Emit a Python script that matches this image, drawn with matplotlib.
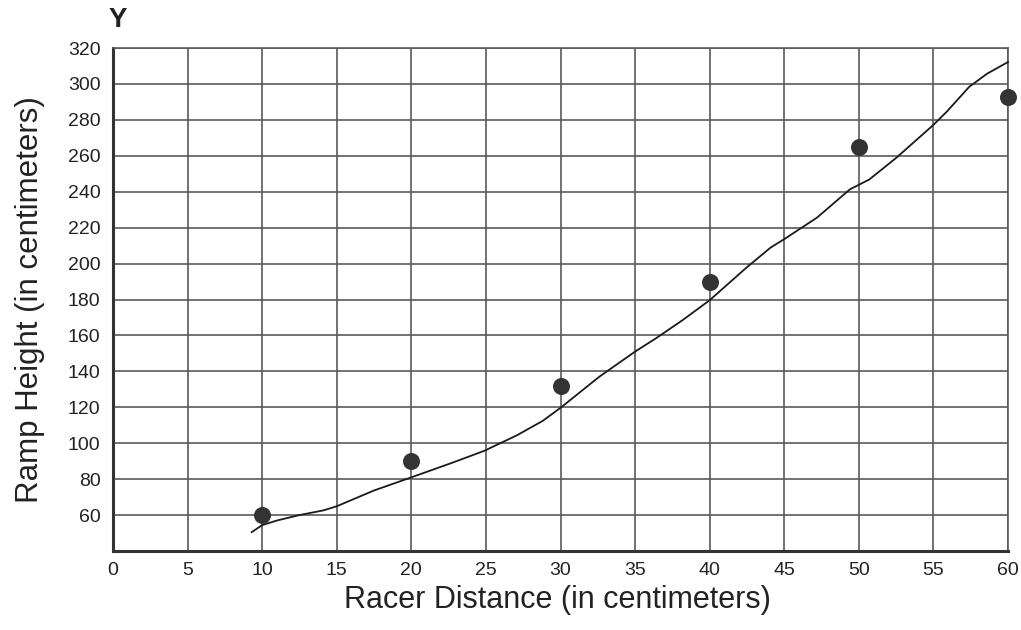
import matplotlib
matplotlib.use("Agg")
import matplotlib.pyplot as plt

plt.rcParams['font.family'] = ['Liberation Sans', 'DejaVu Sans']

# Data points
point_x = [10, 20, 30, 40, 50, 60]
point_y = [60, 90, 132, 190, 265, 293]

# Hand-drawn trend curve
curve_x = [9.3, 10.0, 11.0, 12.5, 14.1, 15.0, 17.5, 20.0, 22.8, 24.9, 27.1, 28.8,
           30.0, 32.6, 35.0, 36.4, 38.2, 40.0, 42.5, 44.1, 45.0, 47.2, 49.4, 50.7,
           52.5, 55.0, 55.9, 57.4, 58.6, 60.0]
curve_y = [50.5, 54.4, 57.0, 60.0, 62.6, 64.9, 73.7, 81.0, 89.3, 95.8, 104.5, 112.4,
           119.7, 137.0, 151.0, 158.4, 168.6, 179.6, 198.0, 209.0, 213.6, 225.6, 241.3,
           246.8, 258.8, 277.2, 284.6, 298.4, 305.7, 312.2]

x_ticks = list(range(0, 61, 5))
y_ticks = list(range(60, 321, 20))

fig = plt.figure(figsize=(10.21, 6.3), dpi=100)
ax = fig.add_axes([113/1021, 79/630, (1008-113)/1021, (551-48)/630])

ax.set_xlim(0, 60)
ax.set_ylim(40, 320)
ax.set_xticks(x_ticks)
ax.set_yticks(y_ticks)
ax.set_yticks([40], minor=True)
ax.tick_params(axis='both', which='both', length=0, labelsize=14, colors='#222222')
ax.tick_params(axis='y', pad=9)
ax.tick_params(axis='x', pad=8)
ax.grid(True, which='both', color='#5a5a5a', linewidth=1.2)
ax.set_axisbelow(True)

for side in ['top', 'right']:
    ax.spines[side].set_color('#5a5a5a')
    ax.spines[side].set_linewidth(1.2)
for side in ['left', 'bottom']:
    ax.spines[side].set_color('#333333')
    ax.spines[side].set_linewidth(2.2)

ax.plot(curve_x, curve_y, color='#1a1a1a', linewidth=1.3, zorder=3, clip_on=False)
ax.scatter(point_x, point_y, s=150, color='#333333', zorder=4, clip_on=False, linewidths=0)

fig.text(30/1021, 1 - 300/630, 'Ramp Height (in centimeters)', rotation=90,
         ha='center', va='center', fontsize=22.5, color='#222222')
fig.text(557/1021, 1 - 600/630, 'Racer Distance (in centimeters)',
         ha='center', va='center', fontsize=22, color='#222222')
fig.text(118/1021, 1 - 20/630, 'Y', ha='center', va='center', fontsize=20,
         fontweight='bold', color='#222222')

fig.savefig('out.png', dpi=100)
